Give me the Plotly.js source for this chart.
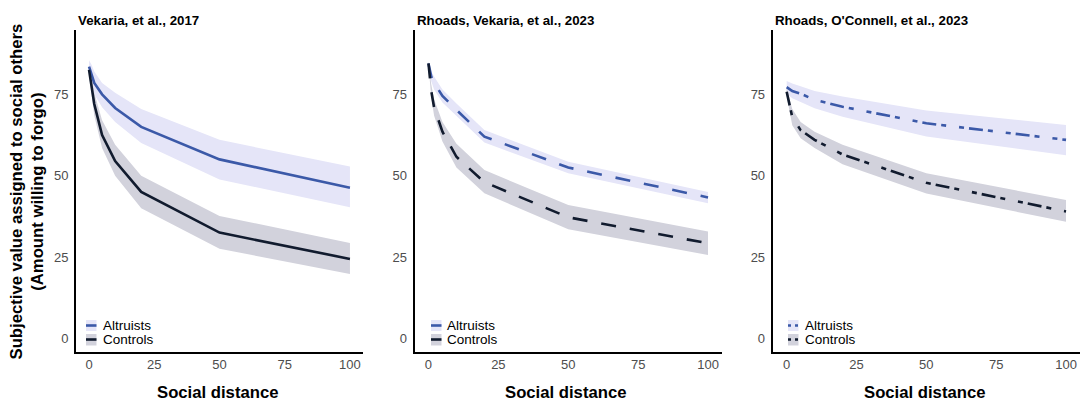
<!DOCTYPE html>
<html>
<head>
<meta charset="utf-8">
<script src="https://cdn.plot.ly/plotly-3.0.1.min.js"></script>
<style>html,body{margin:0;padding:0;background:#fff;}#chart{width:1083px;height:401px;}</style>
</head>
<body>
<div id="chart"></div>
<script>
// ---------------- DATA ----------------
const socialDistance = [0, 1, 2, 5, 10, 20, 50, 100];
const groupNames = ["Altruists", "Controls"];
const panelTitles = ["Vekaria, et al., 2017", "Rhoads, Vekaria, et al., 2023", "Rhoads, O'Connell, et al., 2023"];
const xTickVals = [0, 25, 50, 75, 100];
const yTickVals = [0, 25, 50, 75];
const xAxisTitle = "Social distance";
const yAxisTitle = "Subjective value assigned to social others<br>(Amount willing to forgo)";

// Panel 1: Vekaria, et al., 2017
const p1AltMean  = [83.5, 81.0, 78.5, 75.0, 70.8, 65.0, 55.0, 46.3];
const p1AltUpper = [85.5, 84.0, 82.0, 78.5, 75.5, 70.5, 61.0, 52.8];
const p1AltLower = [81.5, 78.0, 75.0, 71.0, 66.5, 60.0, 48.8, 40.3];
const p1CtlMean  = [82.5, 77.0, 72.0, 62.5, 54.5, 45.0, 32.5, 24.4];
const p1CtlUpper = [83.5, 79.5, 75.5, 67.0, 59.5, 50.0, 37.6, 29.3];
const p1CtlLower = [81.0, 74.0, 68.5, 58.5, 50.0, 40.0, 27.5, 19.8];

// Panel 2: Rhoads, Vekaria, et al., 2023
const p2AltMean  = [84.5, 80.5, 78.5, 74.5, 70.2, 62.0, 52.5, 43.3];
const p2AltUpper = [85.0, 82.0, 80.5, 76.5, 72.2, 64.0, 54.3, 45.0];
const p2AltLower = [84.0, 79.0, 76.5, 72.5, 68.2, 60.2, 50.7, 41.5];
const p2CtlMean  = [84.5, 76.0, 71.0, 63.5, 55.8, 48.0, 37.2, 29.2];
const p2CtlUpper = [85.0, 78.0, 73.5, 66.5, 59.8, 51.7, 41.0, 32.8];
const p2CtlLower = [84.0, 74.0, 68.5, 60.5, 52.5, 44.6, 33.5, 25.6];

// Panel 3: Rhoads, O'Connell, et al., 2023
const p3AltMean  = [77.2, 76.5, 76.0, 75.2, 73.3, 71.2, 66.1, 61.0];
const p3AltUpper = [79.1, 78.7, 78.3, 77.5, 76.0, 74.3, 70.0, 65.6];
const p3AltLower = [75.3, 74.5, 73.8, 72.5, 70.7, 68.1, 62.0, 56.3];
const p3CtlMean  = [75.8, 71.5, 68.0, 64.0, 61.0, 56.5, 47.8, 39.0];
const p3CtlUpper = [77.0, 73.5, 70.5, 66.5, 63.5, 59.5, 50.7, 42.5];
const p3CtlLower = [74.5, 69.5, 65.5, 61.5, 58.5, 53.5, 44.5, 35.8];

// ---------------- STYLE / LAYOUT ----------------
const W = 1083, H = 401, MT = 30, MB = 49;
const plotBottom = H - MB, plotH = H - MT - MB;
const px2x = p => p / W;
const py2y = p => (plotBottom - p) / plotH;

const altLine = "#3B59A8", altFill = "#E5E5F8";
const ctlLine = "#111B2E", ctlFill = "#D2D2DC";
const FONT = "Liberation Sans, Arial, Helvetica, sans-serif";

const panels = [
  {alt:[p1AltMean,p1AltUpper,p1AltLower], ctl:[p1CtlMean,p1CtlUpper,p1CtlLower], dash:"solid", legDash:"solid",
   dom:[76, 363], titleX:76, xTitleX:217.5, legSym:[86, 96.5], legText:100.5},
  {alt:[p2AltMean,p2AltUpper,p2AltLower], ctl:[p2CtlMean,p2CtlUpper,p2CtlLower], dash:"15px,14px", legDash:"solid",
   dom:[414.5, 722], titleX:415, xTitleX:566, legSym:[431, 441.5], legText:445},
  {alt:[p3AltMean,p3AltUpper,p3AltLower], ctl:[p3CtlMean,p3CtlUpper,p3CtlLower], dash:"14px,5px,5px,13px,5px,5px", legDash:"3px,4px",
   dom:[772.7, 1080], titleX:773, xTitleX:924.5, legSym:[788, 798.5], legText:802.5}
];

const traces = [];
const annotations = [];
const shapes = [];
const layout = {
  width: W, height: H,
  margin: {l:0, r:0, t:MT, b:MB, pad:0},
  paper_bgcolor: "#fff", plot_bgcolor: "#fff",
  showlegend: false,
  font: {family: FONT, color: "#000"},
};

panels.forEach((p, i) => {
  const sfx = i === 0 ? "" : String(i + 1);
  const xa = "x" + sfx, ya = "y" + sfx;
  layout["xaxis" + sfx] = {
    domain: [px2x(p.dom[0]), px2x(p.dom[1])], range: [-5, 105], anchor: ya,
    tickvals: xTickVals, ticks: "", showgrid: false, zeroline: false,
    showline: true, linecolor: "#000", linewidth: 2,
    tickfont: {family: FONT, size: 13, color: "#4D4D4D"}, ticklabelstandoff: -1
  };
  layout["yaxis" + sfx] = {
    domain: [0, 1], range: [-4.21, 94.77], anchor: xa,
    tickvals: yTickVals, ticks: "", showgrid: false, zeroline: false,
    showline: true, linecolor: "#000", linewidth: 2,
    tickfont: {family: FONT, size: 13, color: "#4D4D4D"}, ticklabelstandoff: 3
  };
  const groups = [
    {d:p.alt, line:altLine, fill:altFill, name:groupNames[0]},
    {d:p.ctl, line:ctlLine, fill:ctlFill, name:groupNames[1]}
  ];
  // ribbons
  groups.forEach(g => {
    traces.push({
      type: "scatter", mode: "lines", xaxis: xa, yaxis: ya,
      x: socialDistance.concat(socialDistance.slice().reverse()),
      y: g.d[1].concat(g.d[2].slice().reverse()),
      fill: "toself", fillcolor: g.fill, line: {width: 0, color: g.fill},
      hoverinfo: "skip", showlegend: false, name: g.name + " CI"
    });
  });
  // lines
  groups.forEach(g => {
    traces.push({
      type: "scatter", mode: "lines", xaxis: xa, yaxis: ya,
      x: socialDistance, y: g.d[0],
      line: {color: g.line, width: 2.6, dash: p.dash},
      name: g.name, showlegend: false
    });
  });
  // panel title
  annotations.push({
    text: "<b>" + panelTitles[i] + "</b>", xref: "paper", yref: "paper",
    x: px2x(p.titleX), y: py2y(20), xanchor: "left", yanchor: "middle",
    showarrow: false, font: {family: FONT, size: 13.3, color: "#000"}
  });
  // x axis title
  annotations.push({
    text: "<b>" + xAxisTitle + "</b>", xref: "paper", yref: "paper",
    x: px2x(p.xTitleX), y: py2y(392), xanchor: "center", yanchor: "middle",
    showarrow: false, font: {family: FONT, size: 16.7, color: "#000"}
  });
  // legend (inside panel, bottom-left)
  const rows = [{c:325.5, top:320, bot:331}, {c:339.5, top:334, bot:345.5}];
  groups.forEach((g, k) => {
    const r = rows[k];
    shapes.push({type:"rect", xref:"paper", yref:"paper",
      x0:px2x(p.legSym[0]), x1:px2x(p.legSym[1]), y0:py2y(r.bot), y1:py2y(r.top),
      fillcolor:g.fill, line:{width:0}, layer:"above"});
    shapes.push({type:"line", xref:"paper", yref:"paper",
      x0:px2x(p.legSym[0]), x1:px2x(p.legSym[1]), y0:py2y(r.c), y1:py2y(r.c),
      line:{color:g.line, width:2.6, dash:p.legDash}, layer:"above"});
    annotations.push({
      text: g.name, xref: "paper", yref: "paper",
      x: px2x(p.legText), y: py2y(r.c), xanchor: "left", yanchor: "middle",
      showarrow: false, font: {family: FONT, size: 13.5, color: "#000"}
    });
  });
});

// y axis title (shared, left)
annotations.push({
  text: "<b>" + yAxisTitle + "</b>", xref: "paper", yref: "paper",
  x: px2x(27.5), y: py2y(192), xanchor: "center", yanchor: "middle",
  textangle: -90, showarrow: false, font: {family: FONT, size: 16.7, color: "#000"}
});

layout.annotations = annotations;
layout.shapes = shapes;

Plotly.newPlot("chart", traces, layout, {displayModeBar: false, staticPlot: true});
</script>
</body>
</html>
